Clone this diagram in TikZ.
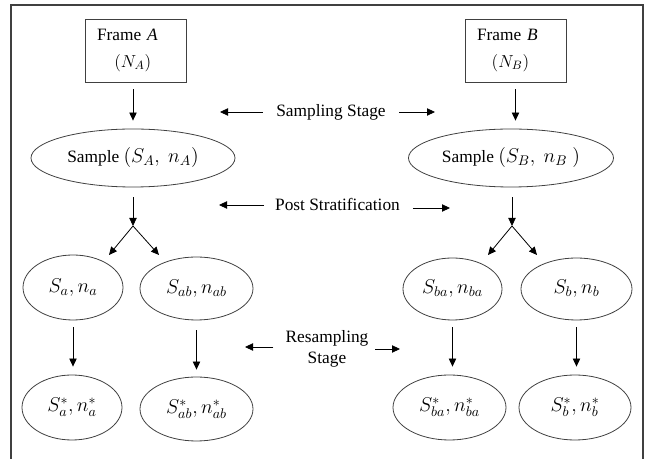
\RequirePackage{fix-cm}
\documentclass[tikz,border=0pt]{standalone}
\usepackage{fontspec}
\setmainfont{Liberation Serif}
\usetikzlibrary{shapes.geometric,arrows.meta}
\newcommand{\mym}[1]{{\fontsize{15}{18}\selectfont$#1$}}
\begin{document}
\begin{tikzpicture}[x=0.75pt,y=-0.75pt,
  font=\fontsize{13}{16}\selectfont,
  framebox/.style={draw=black!75, line width=0.6pt, minimum width=75.75pt, minimum height=47.25pt, inner xsep=9pt, text width=57.75pt, align=left},
  oval/.style={draw=black!75, line width=0.6pt, ellipse, inner sep=0pt},
  arr/.style={-{Triangle[length=6pt,width=5.5pt]}, line width=0.6pt, black},
  stagelabel/.style={inner xsep=0pt, inner ysep=2pt, align=center}
]
\useasboundingbox (0,0) rectangle (647,459);
\draw[line width=0.8pt, black!75] (11,459) -- (11,5) -- (643,5) -- (643,459);

% frames
\node[framebox] (fa) at (135.5,50.5) {Frame \textit{A}\\[4pt]\hspace*{13pt}$(N_A)$};
\node[framebox] (fb) at (515.5,50.5) {Frame \textit{B}\\[4pt]\hspace*{11pt}$(N_B)$};

% samples
\node[oval, minimum width=153pt, minimum height=43.5pt] (sa) at (133,158) {Sample \mym{(S_A,\ n_A)}};
\node[oval, minimum width=153.75pt, minimum height=43.5pt] (sb) at (511,158) {Sample \mym{(S_B,\ n_B\ )}};

% strata
\node[oval, minimum width=75pt, minimum height=48.75pt] (na) at (73,287.5) {\mym{S_a, n_a}};
\node[oval, minimum width=84.75pt, minimum height=47.25pt] (nab) at (196.5,288.5) {\mym{S_{ab}, n_{ab}}};
\node[oval, minimum width=74.25pt, minimum height=46.5pt] (nba) at (452.5,289) {\mym{S_{ba}, n_{ba}}};
\node[oval, minimum width=83.25pt, minimum height=46.5pt] (nb) at (576.5,289) {\mym{S_b, n_b}};

% resamples
\node[oval, minimum width=75pt, minimum height=48.75pt] (sna) at (72,407.5) {\mym{S_a^*, n_a^*}};
\node[oval, minimum width=84.75pt, minimum height=48pt] (snab) at (196.5,409) {\mym{S_{ab}^*, n_{ab}^*}};
\node[oval, minimum width=84.75pt, minimum height=48.75pt] (snba) at (449.5,407.5) {\mym{S_{ba}^*, n_{ba}^*}};
\node[oval, minimum width=84pt, minimum height=48.75pt] (snb) at (575,407.5) {\mym{S_b^*, n_b^*}};

% frame -> sample
\draw[arr, shorten <=5.25pt, shorten >=6pt] (fa.south -| sa.north) -- (sa.north);
\draw[arr, shorten <=5.25pt, shorten >=6pt] (fb.south) -- (fb.south |- sb.north);

% sample -> branches
\coordinate (ja) at (133,226);
\coordinate (ta1) at (109,255);
\coordinate (ta2) at (159,255);
\draw[arr, shorten <=7.5pt] (sa.south) -- (ja);
\draw[arr] (ja) -- (ta1);
\draw[arr] (ja) -- (ta2);

\coordinate (jb) at (512,226);
\coordinate (tb1) at (488,255);
\coordinate (tb2) at (537,255);
\draw[arr, shorten <=7.5pt] (sb.south -| jb) -- (jb);
\draw[arr] (jb) -- (tb1);
\draw[arr] (jb) -- (tb2);

% strata -> resamples
\draw[arr, shorten <=5.25pt, shorten >=6pt] (na.south) -- (na.south |- sna.north);
\draw[arr, shorten <=7.5pt, shorten >=5.25pt] (nab.south) -- (nab.south |- snab.north);
\draw[arr, shorten <=5.25pt, shorten >=6pt] (nba.south) -- (nba.south |- snba.north);
\draw[arr, shorten <=5.25pt, shorten >=6pt] (nb.south) -- (nb.south |- snb.north);

% stage labels
\node[stagelabel] (ss) at (331,112) {Sampling Stage};
\coordinate (ssl) at (220,112);
\coordinate (ssr) at (435,112);
\draw[arr, shorten <=10pt] (ss.west) -- (ssl);
\draw[arr, shorten <=10pt] (ss.east) -- (ssr);

\node[stagelabel] (ps) at (337.5,204) {Post Stratification};
\coordinate (psl) at (219,205);
\coordinate (psr) at (450,208);
\draw[arr, shorten <=8pt] (ps.west |- psl) -- (psl);
\draw[arr, shorten <=9.5pt] (ps.east |- psr) -- (psr);

\node[stagelabel] (rs) at (327,349) {Resampling\\Stage};
\coordinate (rsl) at (245,347);
\coordinate (rsr) at (400,349);
\draw[arr, shorten <=9pt] (rs.west |- rsl) -- (rsl);
\draw[arr, shorten <=5pt] (rs.east |- rsr) -- (rsr);
\end{tikzpicture}
\end{document}
